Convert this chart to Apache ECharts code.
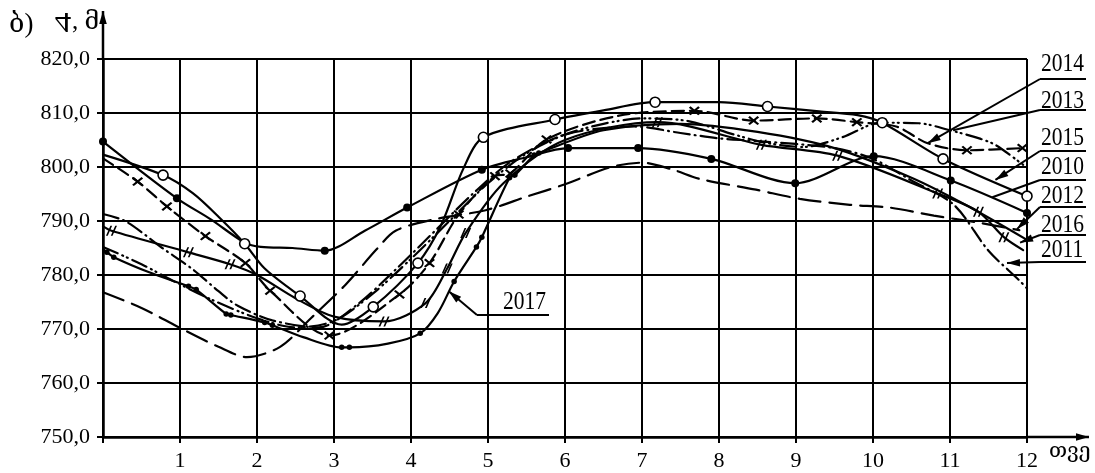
<!DOCTYPE html>
<html><head><meta charset="utf-8">
<script src="https://cdn.jsdelivr.net/npm/echarts@6/dist/echarts.min.js"></script>
<style>html,body{margin:0;padding:0;background:#fff}#c{width:1095px;height:473px}</style>
</head><body><div id="c"></div>
<script>
// ---- data ----
const months = [0,1,2,3,4,5,6,7,8,9,10,11,12];
const yTicks = [750,760,770,780,790,800,810,820];
// [month, value, marker drawn in original (1/0)]
const y2010 = [[0,804.7,1],[0.96,794.2,1],[1.4,790.3,0],[1.84,786,0],[2.05,785.2,0],[2.46,785,0],[2.88,784.5,1],[3.4,788.2,0],[3.95,792.5,1],[4.92,799.5,1],[5.5,801.8,0],[6.04,803.5,1],[6.95,803.5,1],[7.9,801.5,1],[8.99,797,1],[10.01,802,1],[11.01,797.5,1],[12,791.5,1]];
const y2011 = [[0,791.3],[0.3,789.9],[0.77,785],[1.17,781],[1.5,777],[1.75,774.3],[2.2,771.6],[2.8,770.3],[3.3,774.5],[3.8,781],[4.3,788],[4.8,795],[5.3,801],[6.0,806],[6.9,807.5],[7.5,806.3],[8.0,805.3],[8.5,804.8],[9.5,803.5],[10.0,801.5],[10.5,797.5],[11.05,793],[11.5,784.5],[11.9,779],[12,777.5]];
const y2012 = [[0,776.8],[0.5,773.9],[1.0,770.2],[1.5,766.7],[1.87,764.8],[2.3,766.7],[2.7,772],[3.15,778.2],[3.55,784.7],[3.8,788.2],[4.3,790.3],[4.97,792],[5.5,794.5],[6.0,796.8],[6.6,800],[7.0,800.8],[7.4,799.5],[7.75,797.8],[8.48,795.8],[9.05,794.1],[9.7,793],[10.21,792.5],[10.79,791],[11.37,789.7],[11.9,788.3]];
const y2013 = [[0,785.2],[0.5,782],[0.9,779],[1.4,775.5],[2.0,772],[2.5,770.3],[3.0,771.5],[3.5,776.5],[4.0,783],[4.5,790],[5.0,797],[5.5,802.5],[6.0,806],[6.5,808],[7.0,809],[7.6,808.5],[8.2,806],[8.6,804.5],[9.1,803.7],[9.6,805.5],[10.1,808.2],[10.6,808.1],[11.0,806.8],[11.4,805.2],[11.6,804],[11.95,800.4]];
const y2014 = [[0,801.6,0],[0.45,797.3,1],[0.83,792.7,1],[1.33,787.2,1],[1.85,782.2,1],[2.17,777.1,1],[2.94,768.8,1],[3.85,776.4,1],[4.24,782.2,1],[4.62,791.2,1],[5.09,798.3,1],[5.29,798.8,1],[5.76,805.1,1],[6.7,809.5,0],[7.68,810.4,1],[8.45,808.6,1],[9.27,809,1],[9.79,808.3,1],[10.3,807.5,0],[10.71,804.4,0],[11.22,803.1,1],[11.94,803.5,1]];
const y2015 = [[0,802.3,0],[0.78,798.5,1],[1.17,795.1,0],[1.52,790.5,0],[1.84,785.8,1],[2.1,781.2,0],[2.56,776.1,1],[3.1,770.8,0],[3.51,774.1,1],[4.09,782.2,1],[4.39,789.2,0],[4.68,799.7,0],[4.94,805.5,1],[5.87,808.8,1],[6.5,810.5,0],[7.17,812,1],[8.0,812,0],[8.63,811.2,1],[9.3,810.3,0],[9.8,809.6,0],[10.12,808.2,1],[10.91,801.5,1],[12,794.6,1]];
const y2016 = [[0,789,0],[0.11,788.2,1],[1.11,784.2,1],[1.65,782,1],[2.0,780,0],[2.5,775.7,0],[3.0,772.3,0],[3.65,771.4,1],[4.19,774.8,1],[4.47,781.2,1],[4.71,787.8,1],[5.2,797,0],[6.0,805,0],[7.2,808.3,1],[8.55,804.1,1],[9.54,802.1,1],[10.84,795.1,1],[11.37,791.7,1],[11.7,787,1],[11.95,784.6,0]];
const y2017 = [[0,784.8,0],[0.05,784.2,1],[0.14,783.3,1],[0.6,780.5,0],[1.11,777.9,1],[1.21,777.3,1],[1.6,772.8,1],[1.66,772.6,1],[2.1,771.2,1],[2.2,770.7,1],[2.6,768.5,0],[3.1,766.6,1],[3.2,766.6,1],[3.7,767.3,0],[4.12,769.2,1],[4.35,773,0],[4.56,778.8,1],[4.85,785.2,1],[4.92,787,1],[5.28,798,1],[5.35,798.5,1],[5.6,802.2,1],[5.66,802.6,1],[6.5,806.8,0],[7.5,808,0],[8.5,806.5,0],[9.5,803.5,0],[10.5,798,0],[11.2,793,0],[12,786.5,0]];
const rightLabels = ['2014','2013','2015','2010','2012','2016','2011'];
const rightTips = [[10.71,804.4],[11.04,806.8],[11.59,797.6],[11.55,794.4],[11.87,788.5],[11.91,786],[11.74,782.2]];
const innerLabel = '2017';
const innerTip = [4.49,777];
const yTitle = ['ბ)', '4', ', მ'];
const xTitle = 'თვე';

// ---- chart ----
const FONT = '"Liberation Serif","DejaVu Serif","DejaVu Sans",serif';
const chart = echarts.init(document.getElementById('c'));
const CROSS = 'path://M0,1.5 L1.5,0 L5,3.5 L8.5,0 L10,1.5 L6.5,5 L10,8.5 L8.5,10 L5,6.5 L1.5,10 L0,8.5 L3.5,5 Z';
const BARS = 'path://M1,10 L5,0 L6.6,0 L2.6,10 Z M5.4,10 L9.4,0 L11,0 L7,10 Z';
const defs = [
  {name:'2010', data:y2010, dash:'solid', sym:'circle', size:8, fill:'#000'},
  {name:'2011', data:y2011, dash:[16,5,1,5]},
  {name:'2012', data:y2012, dash:[22,9]},
  {name:'2013', data:y2013, dash:[16,5,1,4,1,5]},
  {name:'2014', data:y2014, dash:[12,6], sym:CROSS, size:[11,9], fill:'#000'},
  {name:'2015', data:y2015, dash:'solid', sym:'circle', size:10, fill:'#fff'},
  {name:'2016', data:y2016, dash:'solid', sym:BARS, size:[11,10], fill:'#000'},
  {name:'2017', data:y2017, dash:'solid', sym:'circle', size:5.5, fill:'#000'}
];
const series = defs.map(d => ({
  type:'line', name:d.name, smooth:0.3, showAllSymbol:true, animation:false, z:3,
  lineStyle:{color:'#000', width:2.2, type:d.dash, cap:'round'},
  itemStyle:{color:d.fill||'#000', borderColor:'#000', borderWidth: d.fill==='#fff' ? 1.6 : 0},
  emphasis:{disabled:true},
  data:d.data.map(p => ({value:[p[0],p[1]], symbol:(p[2] && d.sym) ? d.sym : 'none', symbolSize:d.size||1}))
}));
chart.setOption({
  animation:false, backgroundColor:'#fff',
  grid:{left:103, right:68, top:59, bottom:36},
  xAxis:{type:'value', min:months[0], max:months[months.length-1], interval:1,
    axisLine:{show:true, onZero:false, lineStyle:{color:'#000', width:2.5}},
    axisTick:{show:true, length:6, lineStyle:{color:'#000', width:2}},
    axisLabel:{color:'#000', fontFamily:FONT, fontSize:22, margin:13, formatter:v => v===0 ? '' : String(v)},
    splitLine:{show:true, lineStyle:{color:'#000', width:2}}},
  yAxis:{type:'value', min:yTicks[0], max:yTicks[yTicks.length-1], interval:10,
    axisLine:{show:true, onZero:false, lineStyle:{color:'#000', width:2.5}},
    axisTick:{show:true, length:6, lineStyle:{color:'#000', width:2}},
    axisLabel:{color:'#000', fontFamily:FONT, fontSize:22, margin:13, formatter:v => v.toFixed(1).replace('.', ',')},
    splitLine:{show:true, lineStyle:{color:'#000', width:2}}},
  series
});

const px = p => chart.convertToPixel({gridIndex:0}, p);
const [ax0, ay0] = px([months[0], yTicks[0]]);
const [ax1, ay1] = px([months[months.length-1], yTicks[yTicks.length-1]]);
function leader(x1,y1,x2,y2,head){
  const els = [{type:'line', shape:{x1,y1,x2,y2}, style:{stroke:'#000', lineWidth:2}}];
  if (head) {
    const dx=x2-x1, dy=y2-y1, L=Math.hypot(dx,dy), ux=dx/L, uy=dy/L, hl=13, hw=3.8;
    const bx=x2-ux*hl, by=y2-uy*hl;
    els.push({type:'polygon', shape:{points:[[x2,y2],[bx-uy*hw,by+ux*hw],[bx+uy*hw,by-ux*hw]]}, style:{fill:'#000'}});
  }
  return els;
}
const g = [];
g.push(...leader(ax0, ay1, ax0, 11, true).map(e => (e.style.lineWidth=2.5, e)));
g.push(...leader(ax1, ay0, 1089, ay0, true).map(e => (e.style.lineWidth=2.5, e)));
const rows = [64, 101, 138, 167, 196, 225, 250];
const ulines = [79, 110, 151, 180, 207, 235, 262];
const heads = [true, false, true, false, true, true, true];
rightLabels.forEach((t,i) => {
  g.push({type:'text', x:1041, y:rows[i], scaleX:0.86, style:{text:t, font:`25px ${FONT}`, fill:'#000', verticalAlign:'middle'}});
  g.push({type:'line', shape:{x1:1040, y1:ulines[i], x2:1086, y2:ulines[i]}, style:{stroke:'#000', lineWidth:2}});
  const [tx, ty] = px(rightTips[i]);
  g.push(...leader(1040, ulines[i], tx, ty, heads[i]));
});
g.push({type:'text', x:503, y:302, scaleX:0.86, style:{text:innerLabel, font:`25px ${FONT}`, fill:'#000', verticalAlign:'middle'}});
g.push({type:'line', shape:{x1:477, y1:315, x2:549, y2:315}, style:{stroke:'#000', lineWidth:2}});
{ const [tx,ty] = px(innerTip); g.push(...leader(477, 315, tx, ty, true)); }
g.push({type:'text', x:9, y:25, style:{text:yTitle[0], font:`27px ${FONT}`, fill:'#000', verticalAlign:'middle'}});
g.push({type:'text', x:63, y:21, scaleX:1.5, scaleY:-1.35, style:{text:yTitle[1], font:`22px ${FONT}`, fill:'#000', align:'center', verticalAlign:'middle'}});
g.push({type:'text', x:72, y:22, style:{text:yTitle[2], font:`25px ${FONT}`, fill:'#000', verticalAlign:'middle'}});
g.push({type:'text', x:1049, y:451, style:{text:xTitle, font:`21px ${FONT}`, fill:'#000', verticalAlign:'middle'}});
chart.setOption({graphic:g});
</script></body></html>
